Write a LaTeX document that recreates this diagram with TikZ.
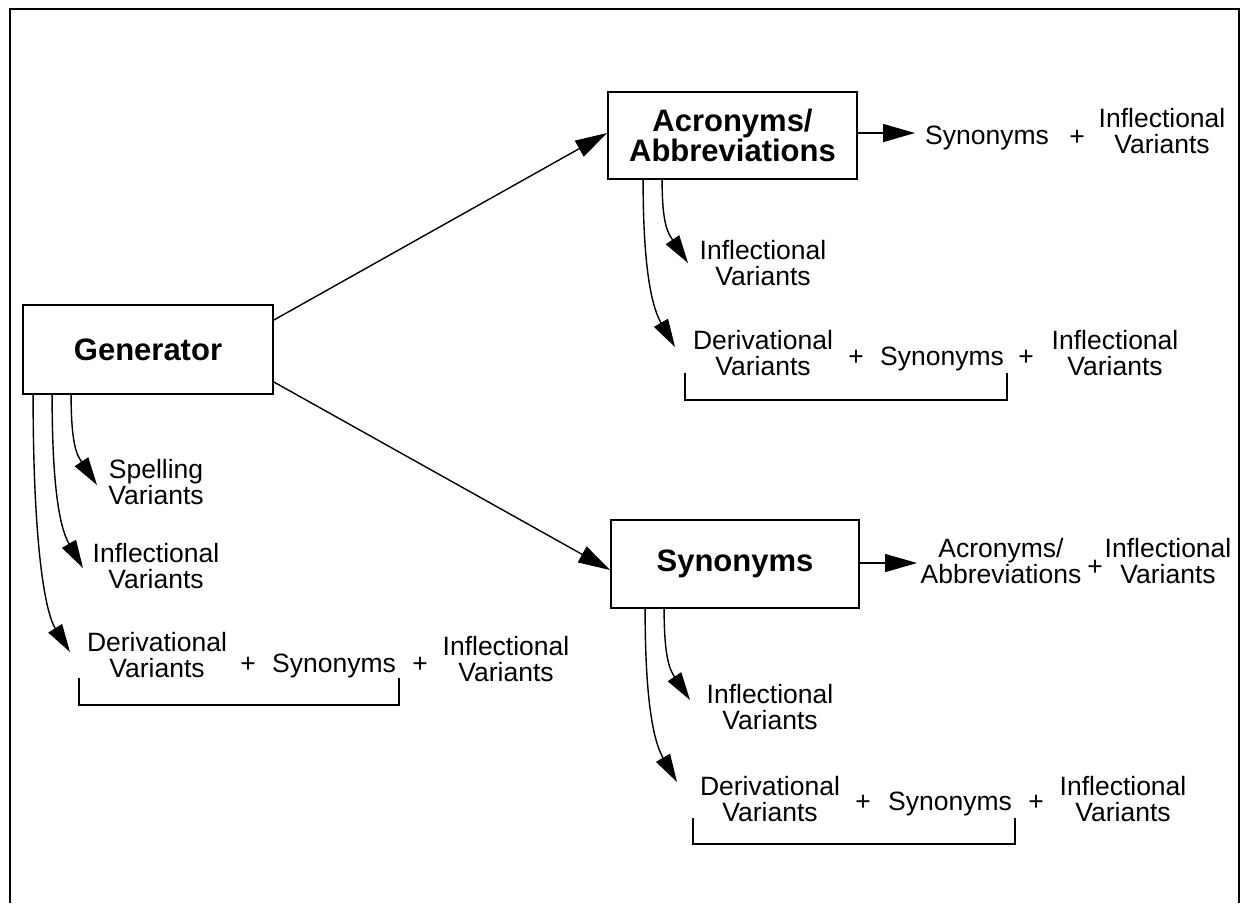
\documentclass[tikz,border=0pt]{standalone}
\usepackage{fontspec}
\setmainfont{Liberation Sans}
\usetikzlibrary{arrows.meta}
\begin{document}
\begin{tikzpicture}[x=1pt,y=-1pt,
  box/.style={draw, line width=1.8pt, inner sep=0pt, align=center,
              font=\fontsize{31}{30}\selectfont\bfseries},
  lbl/.style={inner sep=0pt, align=center, font=\fontsize{26.5}{26}\selectfont},
  conn/.style={line width=1.4pt, -{Triangle[length=32pt,width=18pt]}},
  cconn/.style={line width=1.4pt, -{Triangle[length=28pt,width=16pt]}},
  brk/.style={line width=1.4pt}
]
\useasboundingbox (0,0) rectangle (1242,903);
\draw[line width=1.8pt] (10,903) -- (10,9) -- (1239,9) -- (1239,903);

% main boxes
\node[box, minimum width=250pt, minimum height=89pt] (gen) at (148,349.5) {Generator};
\node[box, minimum width=249pt, minimum height=87pt] (acr) at (732.5,135.5) {Acronyms/\\Abbreviations};
\node[box, minimum width=248pt, minimum height=88pt] (syn) at (735,564) {Synonyms};

% generator to boxes
\draw[conn] ([yshift=29.5pt]gen.east) -- ([yshift=2.5pt]acr.west);
\draw[conn] ([yshift=-32.5pt]gen.east) -- ([yshift=-6pt]syn.west);

% generator labels
\node[lbl] (gsp) at (156,482) {Spelling\\Variants};
\node[lbl] (gin) at (156,566) {Inflectional\\Variants};
\node[lbl] (gde) at (157,655) {Derivational\\Variants};
\node[lbl] (gp1) at (248,665) {+};
\node[lbl] (gsy) at (334,666) {Synonyms};
\node[lbl] (gp2) at (420,665) {+};
\node[lbl] (gin2) at (506,659) {Inflectional\\Variants};
\draw[brk] (79,678) -- (79,705) -- (399,705) -- (399,678);

\coordinate (tgsp) at (97,485);
\coordinate (tgin) at (83,568);
\coordinate (tgde) at (70,652);
\draw[cconn] ([xshift=49pt]gen.south west) .. controls +(0,50) and +(-20,-30) .. (tgsp);
\draw[cconn] ([xshift=30pt]gen.south west) .. controls +(0,100) and +(-22,-38) .. (tgin);
\draw[cconn] ([xshift=11pt]gen.south west) .. controls +(0,150) and +(-25,-40) .. (tgde);

% acronyms side
\coordinate (tar) at (915,133);
\draw[conn] ([yshift=2.5pt]acr.east) -- (tar);
\node[lbl] (ars) at (987,138) {Synonyms};
\node[lbl] (arp) at (1077,138) {+};
\node[lbl] (ari) at (1162,131) {Inflectional\\Variants};

\node[lbl] (ain) at (763,263) {Inflectional\\Variants};
\node[lbl] (ade) at (763,353) {Derivational\\Variants};
\node[lbl] (ap1) at (856,358) {+};
\node[lbl] (asy) at (942,359) {Synonyms};
\node[lbl] (ap2) at (1026,358) {+};
\node[lbl] (ain2) at (1115,353) {Inflectional\\Variants};
\draw[brk] (685,373) -- (685,400) -- (1007,400) -- (1007,373);

\coordinate (tain) at (688,263);
\coordinate (tade) at (675,347);
\draw[cconn] ([xshift=55pt]acr.south west) .. controls +(0,45) and +(-20,-30) .. (tain);
\draw[cconn] ([xshift=36pt]acr.south west) .. controls +(0,95) and +(-22,-38) .. (tade);

% synonyms side
\coordinate (tsr) at (917,563);
\draw[conn] ([yshift=1pt]syn.east) -- (tsr);
\node[lbl] (sra) at (1001,561) {Acronyms/\\Abbreviations};
\node[lbl] (srp) at (1095,568) {+};
\node[lbl] (sri) at (1168,561) {Inflectional\\Variants};

\node[lbl] (sin) at (770,707) {Inflectional\\Variants};
\node[lbl] (sde) at (770,799) {Derivational\\Variants};
\node[lbl] (sp1) at (863,803) {+};
\node[lbl] (ssy) at (950,804) {Synonyms};
\node[lbl] (sp2) at (1036,803) {+};
\node[lbl] (sin2) at (1123,799) {Inflectional\\Variants};
\draw[brk] (693,818) -- (693,844) -- (1015,844) -- (1015,818);

\coordinate (tsin) at (690,700);
\coordinate (tsde) at (677,782);
\draw[cconn] ([xshift=54pt]syn.south west) .. controls +(0,50) and +(-20,-30) .. (tsin);
\draw[cconn] ([xshift=35pt]syn.south west) .. controls +(0,100) and +(-22,-38) .. (tsde);
\end{tikzpicture}
\end{document}
